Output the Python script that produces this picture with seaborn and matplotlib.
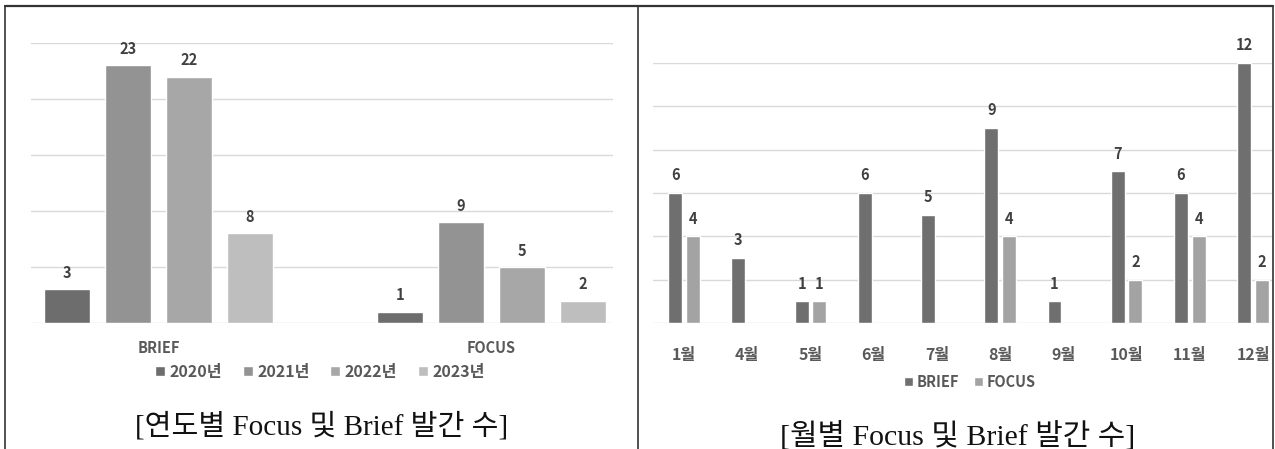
import numpy as np
import pandas as pd
import matplotlib
matplotlib.use('Agg')
import matplotlib.pyplot as plt
from matplotlib.lines import Line2D
import seaborn as sns

sns.set_style('white')
plt.rcParams['font.family'] = ['Noto Sans CJK KR', 'DejaVu Sans']

# yearly data
types = ['BRIEF', 'FOCUS']
years = ['2020년', '2021년', '2022년', '2023년']
brief_by_year = [3, 23, 22, 8]
focus_by_year = [1, 9, 5, 2]

# monthly data
months = ['1월', '4월', '5월', '6월', '7월', '8월', '9월', '10월', '11월', '12월']
brief_by_month = [6, 3, 1, 6, 5, 9, 1, 7, 6, 12]
focus_by_month = [4, np.nan, 1, np.nan, np.nan, 4, np.nan, 2, 4, 2]

year_colors = ['#6d6d6d', '#939393', '#a7a7a7', '#bebebe']
month_colors = ['#6f6f6f', '#a3a3a3']

TXT = '#595959'
LBL = '#404040'
GRID = '#d9d9d9'
TITLE_FONT = ['Liberation Serif', 'Noto Sans CJK KR']

df_year = pd.DataFrame({
    'type': [t for t in types for _ in years],
    'year': years * 2,
    'count': brief_by_year + focus_by_year,
})
df_month = pd.DataFrame({
    'month': months * 2,
    'kind': ['BRIEF'] * len(months) + ['FOCUS'] * len(months),
    'count': brief_by_month + focus_by_month,
})

W, H = 1275, 449
fig = plt.figure(figsize=(W / 100, H / 100), dpi=100)


def px_axes(x0, x1, ytop, ybot):
    return fig.add_axes([x0 / W, 1 - ybot / H, (x1 - x0) / W, (ybot - ytop) / H])


def style_axes(ax, ymax, step):
    ax.set_ylim(0, ymax)
    ax.set_yticks(np.arange(0, ymax + 0.1, step))
    ax.yaxis.grid(True, color=GRID, linewidth=1)
    ax.set_axisbelow(True)
    ax.set_yticklabels([])
    ax.tick_params(axis='y', length=0)
    ax.tick_params(axis='x', length=0)
    for s in ax.spines.values():
        s.set_visible(False)
    ax.set_xlabel('')
    ax.set_ylabel('')
    ax.set_facecolor('none')


# left: by year
ax1 = px_axes(31, 613, 43, 323)
sns.barplot(data=df_year, x='type', y='count', hue='year', palette=year_colors,
            width=0.73, gap=0.24, ax=ax1, legend=True, saturation=1)
style_axes(ax1, 25, 5)
ax1.set_xlim(-0.383, 1.365)
ax1.tick_params(axis='x', pad=12, labelsize=10.5, labelcolor=TXT)
for lab in ax1.get_xticklabels():
    lab.set_fontweight('bold')
for c in ax1.containers:
    ax1.bar_label(c, padding=6, fontsize=10.5, fontweight='bold', color=LBL)
h, l = ax1.get_legend_handles_labels()
ax1.legend_.remove()
leg1 = fig.legend(h, l, loc='center', bbox_to_anchor=(320 / W, 1 - 372 / H), ncol=4,
                  frameon=False, handlelength=0.6, handleheight=0.6, handletextpad=0.3,
                  columnspacing=1.3, prop={'size': 11.5, 'weight': 'bold'})
for t in leg1.get_texts():
    t.set_color(TXT)

# right: by month
ax2 = px_axes(653, 1272, 63, 323)
sns.barplot(data=df_month, x='month', y='count', hue='kind', palette=month_colors,
            width=0.56, gap=0.21, ax=ax2, legend=True, saturation=1)
style_axes(ax2, 12, 2)
ax2.set_xlim(-0.49, 9.30)
ax2.tick_params(axis='x', pad=17, labelsize=11.5, labelcolor=TXT)
for lab in ax2.get_xticklabels():
    lab.set_fontweight('bold')
for c in ax2.containers:
    ax2.bar_label(c, labels=['' if np.isnan(v) else f'{v:g}' for v in c.datavalues],
                  padding=7, fontsize=10.5, fontweight='bold', color=LBL, clip_on=False)
h, l = ax2.get_legend_handles_labels()
ax2.legend_.remove()
leg2 = fig.legend(h, l, loc='center', bbox_to_anchor=(970 / W, 1 - 382 / H), ncol=2,
                  frameon=False, handlelength=0.6, handleheight=0.6, handletextpad=0.3,
                  columnspacing=1.0, prop={'size': 10.5, 'weight': 'bold'})
for t in leg2.get_texts():
    t.set_color(TXT)

# captions
fig.text(322 / W, 1 - 426 / H, '[연도별 Focus 및 Brief 발간 수]', ha='center', va='center',
         fontsize=21, family=TITLE_FONT, color='#111111')
fig.text(958 / W, 1 - 436 / H, '[월별 Focus 및 Brief 발간 수]', ha='center', va='center',
         fontsize=21.5, family=TITLE_FONT, color='#111111')

# table borders
def fig_line(xs, ys, lw):
    fig.add_artist(Line2D([x / W for x in xs], [1 - y / H for y in ys],
                          color='#333333', linewidth=lw, transform=fig.transFigure))

fig_line([5, 1273], [6, 6], 1.6)
fig_line([5, 5], [6, 449], 1.2)
fig_line([638, 638], [6, 449], 1.2)
fig_line([1273, 1273], [6, 449], 1.2)

fig.savefig('out.png', dpi=100)
